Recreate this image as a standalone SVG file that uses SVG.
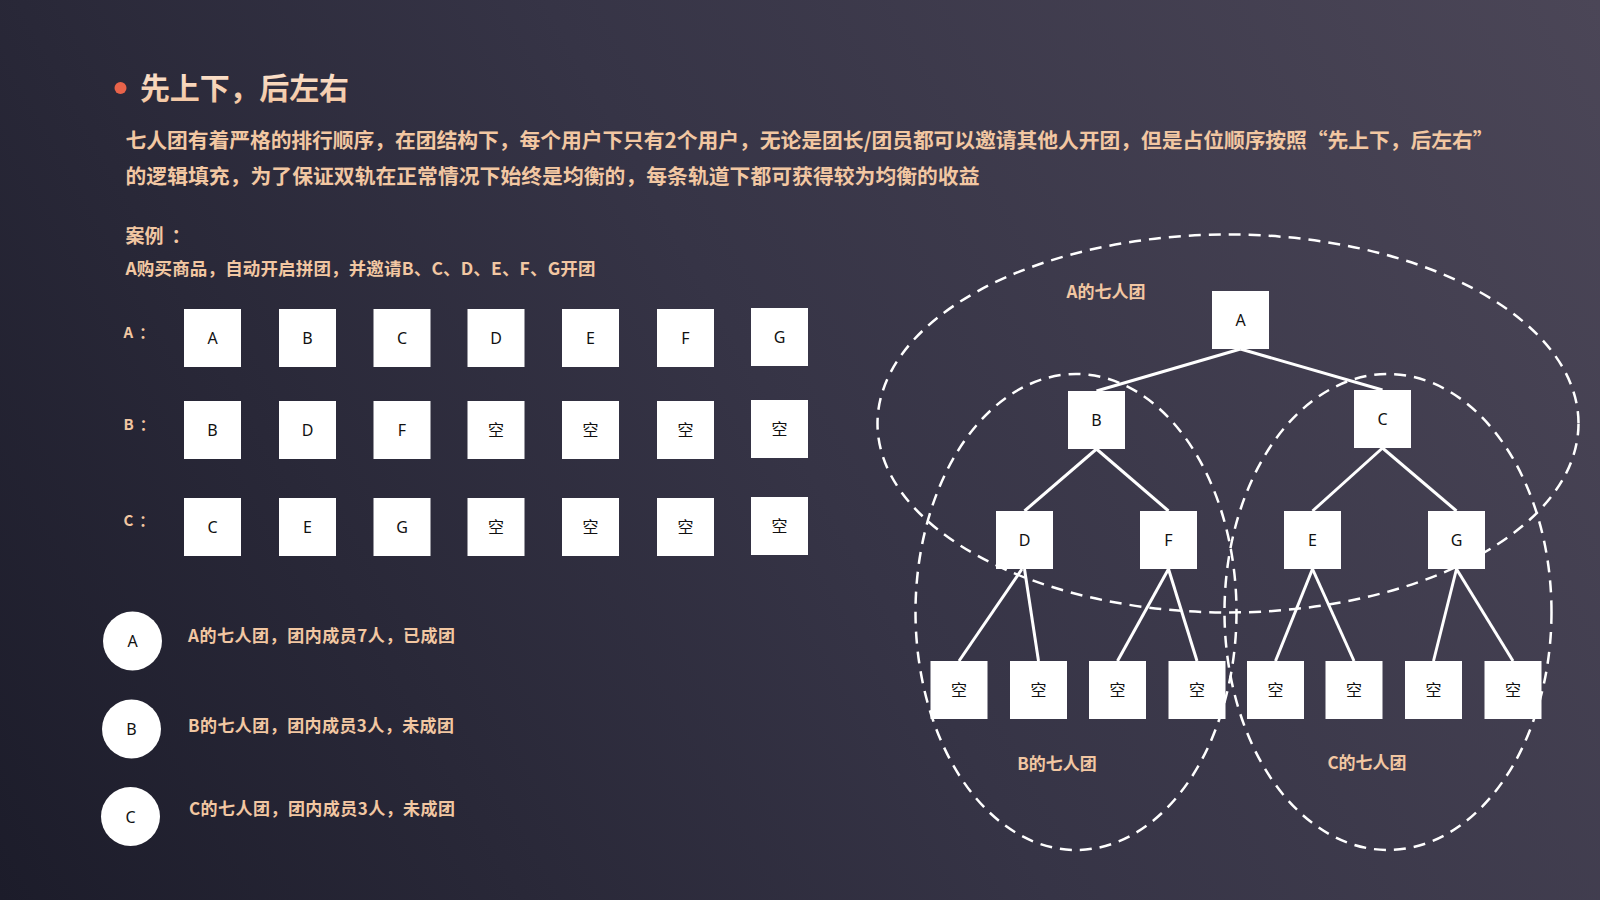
<svg xmlns="http://www.w3.org/2000/svg" width="1600" height="900" viewBox="0 0 1600 900">
<defs>
<linearGradient id="bg" x1="0" y1="900" x2="1600" y2="0" gradientUnits="userSpaceOnUse">
<stop offset="0" stop-color="#1c1c2a"/>
<stop offset="0.5" stop-color="#363446"/>
<stop offset="1" stop-color="#4b4657"/>
</linearGradient>
<linearGradient id="tg" x1="0" y1="0" x2="0" y2="1">
<stop offset="0" stop-color="#fde8d6"/>
<stop offset="1" stop-color="#f1c29c"/>
</linearGradient>
</defs>
<style>
.cn{font-family:"Noto Sans CJK SC","Noto Sans",sans-serif;font-weight:bold;fill:#f2c7a2}
.box{fill:#ffffff}
.bt{font-family:"Noto Sans","Noto Sans CJK SC",sans-serif;font-size:16px;fill:#111111;text-anchor:middle}
.lbl{font-family:"Noto Sans CJK SC","Noto Sans",sans-serif;font-weight:bold;font-size:15px;fill:#f2c7a2}
.ring{fill:none;stroke:#ffffff;stroke-width:2.5;stroke-dasharray:12 8}
.edge{stroke:#ffffff;stroke-width:3;fill:none}
.cl{font-family:"Noto Sans CJK SC","Noto Sans",sans-serif;font-weight:bold;font-size:17px;fill:#f2c7a2;text-anchor:middle}
</style>
<rect x="0" y="0" width="1600" height="900" fill="url(#bg)"/>

<g id="header">
<circle cx="120.5" cy="88" r="6" fill="#e8634a"/>
<text x="140" y="99" font-family="'Noto Sans CJK SC',sans-serif" font-weight="bold" font-size="30" fill="url(#tg)" textLength="209" lengthAdjust="spacing">先上下，后左右</text>
<text class="cn" x="125.5" y="147.5" font-size="20.8" textLength="1368" lengthAdjust="spacing">七人团有着严格的排行顺序，在团结构下，每个用户下只有2个用户，无论是团长/团员都可以邀请其他人开团，但是占位顺序按照“先上下，后左右”</text>
<text class="cn" x="125.5" y="184" font-size="20.8" textLength="854" lengthAdjust="spacing">的逻辑填充，为了保证双轨在正常情况下始终是均衡的，每条轨道下都可获得较为均衡的收益</text>
<text class="cn" x="125.5" y="243" font-size="19">案例<tspan dx="8">：</tspan></text>
<text class="cn" x="125.5" y="275" font-size="17.5" textLength="470" lengthAdjust="spacing">A购买商品，自动开启拼团，并邀请B、C、D、E、F、G开团</text>
</g>

<g id="row-labels">
<text class="lbl" x="123.5" y="338">A<tspan dx="6">：</tspan></text>
<text class="lbl" x="123.5" y="430">B<tspan dx="6">：</tspan></text>
<text class="lbl" x="123.5" y="526">C<tspan dx="6">：</tspan></text>
</g>

<g id="rowA">
<g id="rowA-1"><rect class="box" x="184" y="309" width="57" height="58"/><text class="bt" x="212.5" y="344">A</text></g>
<g id="rowA-2"><rect class="box" x="279" y="309" width="57" height="58"/><text class="bt" x="307.5" y="344">B</text></g>
<g id="rowA-3"><rect class="box" x="373.5" y="309" width="57" height="58"/><text class="bt" x="402" y="344">C</text></g>
<g id="rowA-4"><rect class="box" x="467.5" y="309" width="57" height="58"/><text class="bt" x="496" y="344">D</text></g>
<g id="rowA-5"><rect class="box" x="562" y="309" width="57" height="58"/><text class="bt" x="590.5" y="344">E</text></g>
<g id="rowA-6"><rect class="box" x="657" y="309" width="57" height="58"/><text class="bt" x="685.5" y="344">F</text></g>
<g id="rowA-7"><rect class="box" x="751" y="308" width="57" height="58"/><text class="bt" x="779.5" y="343">G</text></g>
</g>

<g id="rowB">
<g id="rowB-1"><rect class="box" x="184" y="401" width="57" height="58"/><text class="bt" x="212.5" y="436">B</text></g>
<g id="rowB-2"><rect class="box" x="279" y="401" width="57" height="58"/><text class="bt" x="307.5" y="436">D</text></g>
<g id="rowB-3"><rect class="box" x="373.5" y="401" width="57" height="58"/><text class="bt" x="402" y="436">F</text></g>
<g id="rowB-4"><rect class="box" x="467.5" y="401" width="57" height="58"/><text class="bt" x="496" y="436">空</text></g>
<g id="rowB-5"><rect class="box" x="562" y="401" width="57" height="58"/><text class="bt" x="590.5" y="436">空</text></g>
<g id="rowB-6"><rect class="box" x="657" y="401" width="57" height="58"/><text class="bt" x="685.5" y="436">空</text></g>
<g id="rowB-7"><rect class="box" x="751" y="400" width="57" height="58"/><text class="bt" x="779.5" y="435">空</text></g>
</g>

<g id="rowC">
<g id="rowC-1"><rect class="box" x="184" y="498" width="57" height="58"/><text class="bt" x="212.5" y="533">C</text></g>
<g id="rowC-2"><rect class="box" x="279" y="498" width="57" height="58"/><text class="bt" x="307.5" y="533">E</text></g>
<g id="rowC-3"><rect class="box" x="373.5" y="498" width="57" height="58"/><text class="bt" x="402" y="533">G</text></g>
<g id="rowC-4"><rect class="box" x="467.5" y="498" width="57" height="58"/><text class="bt" x="496" y="533">空</text></g>
<g id="rowC-5"><rect class="box" x="562" y="498" width="57" height="58"/><text class="bt" x="590.5" y="533">空</text></g>
<g id="rowC-6"><rect class="box" x="657" y="498" width="57" height="58"/><text class="bt" x="685.5" y="533">空</text></g>
<g id="rowC-7"><rect class="box" x="751" y="497" width="57" height="58"/><text class="bt" x="779.5" y="532">空</text></g>
</g>

<g id="legend">
<g id="legend-A"><circle class="box" cx="132.5" cy="641" r="29.5"/><text class="bt" x="132.5" y="647">A</text><text class="cn" x="188" y="642" font-size="17" textLength="267" lengthAdjust="spacing">A的七人团，团内成员7人，已成团</text></g>
<g id="legend-B"><circle class="box" cx="131.5" cy="729" r="29.5"/><text class="bt" x="131.5" y="735">B</text><text class="cn" x="188" y="731.5" font-size="17" textLength="266" lengthAdjust="spacing">B的七人团，团内成员3人，未成团</text></g>
<g id="legend-C"><circle class="box" cx="130.5" cy="816.5" r="29.5"/><text class="bt" x="130.5" y="822.5">C</text><text class="cn" x="189" y="814.5" font-size="17" textLength="266" lengthAdjust="spacing">C的七人团，团内成员3人，未成团</text></g>
</g>

<g id="groups">
<ellipse class="ring" cx="1228" cy="423.5" rx="350.5" ry="189"/>
<ellipse class="ring" cx="1076" cy="612" rx="160.5" ry="238"/>
<ellipse class="ring" cx="1388" cy="612" rx="163.5" ry="238"/>
<text class="cl" x="1106" y="298">A的七人团</text>
<text class="cl" x="1057" y="770">B的七人团</text>
<text class="cl" x="1367" y="769">C的七人团</text>
</g>

<g id="connectors">
<line class="edge" x1="1240.5" y1="349" x2="1096.5" y2="391"/>
<line class="edge" x1="1240.5" y1="349" x2="1382.5" y2="390"/>
<line class="edge" x1="1096.5" y1="449" x2="1024.5" y2="511"/>
<line class="edge" x1="1096.5" y1="449" x2="1168.5" y2="511"/>
<line class="edge" x1="1382.5" y1="448" x2="1312.5" y2="511"/>
<line class="edge" x1="1382.5" y1="448" x2="1456.5" y2="511"/>
<line class="edge" x1="1022" y1="569" x2="959" y2="661"/>
<line class="edge" x1="1024.5" y1="569" x2="1038.5" y2="661"/>
<line class="edge" x1="1168.5" y1="569" x2="1117.5" y2="661"/>
<line class="edge" x1="1168.5" y1="569" x2="1197" y2="661"/>
<line class="edge" x1="1312.5" y1="569" x2="1275.5" y2="661"/>
<line class="edge" x1="1312.5" y1="569" x2="1354" y2="661"/>
<line class="edge" x1="1456.5" y1="569" x2="1433.5" y2="661"/>
<line class="edge" x1="1456.5" y1="569" x2="1513" y2="661"/>
</g>

<g id="node-A"><rect class="box" x="1212" y="291" width="57" height="58"/><text class="bt" x="1240.5" y="326">A</text></g>
<g id="node-B"><rect class="box" x="1068" y="391" width="57" height="58"/><text class="bt" x="1096.5" y="426">B</text></g>
<g id="node-C"><rect class="box" x="1354" y="390" width="57" height="58"/><text class="bt" x="1382.5" y="425">C</text></g>
<g id="node-D"><rect class="box" x="996" y="511" width="57" height="58"/><text class="bt" x="1024.5" y="546">D</text></g>
<g id="node-F"><rect class="box" x="1140" y="511" width="57" height="58"/><text class="bt" x="1168.5" y="546">F</text></g>
<g id="node-E"><rect class="box" x="1284" y="511" width="57" height="58"/><text class="bt" x="1312.5" y="546">E</text></g>
<g id="node-G"><rect class="box" x="1428" y="511" width="57" height="58"/><text class="bt" x="1456.5" y="546">G</text></g>
<g id="leaf-1"><rect class="box" x="930.5" y="661" width="57" height="58"/><text class="bt" x="959" y="696">空</text></g>
<g id="leaf-2"><rect class="box" x="1010" y="661" width="57" height="58"/><text class="bt" x="1038.5" y="696">空</text></g>
<g id="leaf-3"><rect class="box" x="1089" y="661" width="57" height="58"/><text class="bt" x="1117.5" y="696">空</text></g>
<g id="leaf-4"><rect class="box" x="1168.5" y="661" width="57" height="58"/><text class="bt" x="1197" y="696">空</text></g>
<g id="leaf-5"><rect class="box" x="1247" y="661" width="57" height="58"/><text class="bt" x="1275.5" y="696">空</text></g>
<g id="leaf-6"><rect class="box" x="1325.5" y="661" width="57" height="58"/><text class="bt" x="1354" y="696">空</text></g>
<g id="leaf-7"><rect class="box" x="1405" y="661" width="57" height="58"/><text class="bt" x="1433.5" y="696">空</text></g>
<g id="leaf-8"><rect class="box" x="1484.5" y="661" width="57" height="58"/><text class="bt" x="1513" y="696">空</text></g>
</svg>
